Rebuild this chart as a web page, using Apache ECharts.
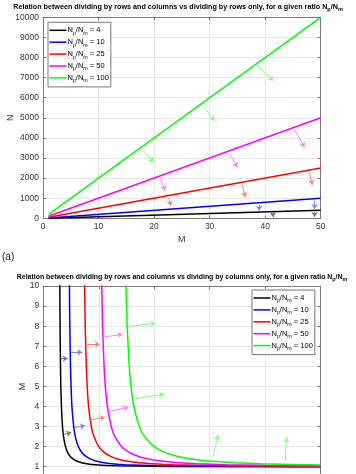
<!DOCTYPE html>
<html>
<head>
	<meta charset="utf-8" />
	<title>Rows and columns</title>
	<script src="https://cdn.jsdelivr.net/npm/echarts@6/dist/echarts.min.js"></script>
	<style>
		html, body { margin: 0; padding: 0; background: #fff; }
	</style>
</head>
<body>
	<div id="main" style="width: 356px;height: 474px;"></div>
	<script type="text/javascript">

		// ratios Np/Nm and colours
		var ratios = [4, 10, 25, 50, 100];
		var lineColors = ['#000000', '#0000ff', '#ff0000', '#ff00ff', '#00ff00'];
		var arrowColors = ['#7a7a7a', '#8080ff', '#ff8080', '#ff80ff', '#80ff80'];

		// top chart: N against M, ends of each line
		var mEnds = [1, 50];
		var nEnds = [[8, 400], [20, 1000], [50, 2500], [100, 5000], [200, 10000]];

		// bottom chart: M against N
		var curve4 = [[2.95, 12], [2.98, 10], [3.02, 8], [3.10, 6], [3.16, 5], [3.27, 4], [3.46, 3], [3.65, 2.5], [4.0, 2], [4.41, 1.7], [4.9, 1.5], [5.29, 1.4], [5.89, 1.3], [6.93, 1.2], [7.83, 1.15], [9.38, 1.1], [12.96, 1.05], [20, 1.02], [30, 1.009], [40, 1.005], [50, 1.003]];
		var curve10 = [[4.67, 12], [4.71, 10], [4.78, 8], [4.90, 6], [5.0, 5], [5.16, 4], [5.48, 3], [5.77, 2.5], [6.32, 2], [6.97, 1.7], [7.75, 1.5], [8.37, 1.4], [9.31, 1.3], [10.95, 1.2], [12.38, 1.15], [14.83, 1.1], [20.49, 1.05], [30, 1.023], [40, 1.013], [50, 1.008]];
		var curve25 = [[7.39, 12], [7.45, 10], [7.56, 8], [7.75, 6], [7.91, 5], [8.16, 4], [8.66, 3], [9.13, 2.5], [10, 2], [11.02, 1.7], [12.25, 1.5], [13.23, 1.4], [14.72, 1.3], [17.32, 1.2], [19.58, 1.15], [23.45, 1.1], [32.4, 1.05], [40, 1.032], [50, 1.02]];
		var curve50 = [[10.44, 12], [10.54, 10], [10.69, 8], [10.95, 6], [11.18, 5], [11.55, 4], [12.25, 3], [12.91, 2.5], [14.14, 2], [15.58, 1.7], [17.32, 1.5], [18.71, 1.4], [20.82, 1.3], [24.49, 1.2], [27.69, 1.15], [33.17, 1.1], [40, 1.067], [45.83, 1.05], [50, 1.042]];
		var curve100 = [[14.77, 12], [14.91, 10], [15.12, 8], [15.49, 6], [15.81, 5], [16.33, 4], [17.32, 3], [18.26, 2.5], [20, 2], [22.04, 1.7], [24.49, 1.5], [26.46, 1.4], [29.44, 1.3], [34.64, 1.2], [39.16, 1.15], [46.9, 1.1], [50, 1.087]];
		var curves = [curve4, curve10, curve25, curve50, curve100];

		// arrows [from, to]
		var topArrows = [
			[[[41.4, 280], [41.4, 50]], [[48.9, 330], [48.9, 60]]],
			[[[38.9, 660], [38.9, 380]], [[48.9, 880], [48.9, 460]]],
			[[[22.7, 1000], [23.0, 610]], [[35.9, 1660], [36.4, 1050]], [[48.0, 2270], [48.5, 1660]]],
			[[[21.1, 1990], [22.0, 1380]], [[33.7, 3190], [35.0, 2540]], [[45.2, 4430], [47.1, 3540]]],
			[[[18.1, 3350], [19.9, 2790]], [[29.0, 5530], [30.9, 4850]], [[38.8, 7550], [41.5, 6840]]]
		];
		var bottomArrows = [
			[[[3.1, 6.38], [4.4, 6.38]], [[3.73, 2.61], [5.05, 2.71]]],
			[[[5.05, 6.70], [7.03, 6.70]], [[5.66, 2.96], [7.51, 3.04]]],
			[[[7.93, 7.09], [10.2, 7.09]], [[8.47, 3.31], [11.1, 3.46]]],
			[[[11.1, 7.47], [14.3, 7.59]], [[11.9, 3.77], [15.3, 3.96]]],
			[[[15.3, 7.98], [20.25, 8.15]], [[16.6, 4.39], [21.8, 4.61]], [[30.6, 1.47], [31.5, 2.58]], [[43.6, 1.25], [43.85, 2.46]]]
		];

		var font = 'Liberation Sans';
		var frame = '#7a7a7a';
		var names = ratios.map(function (r) { return 'Np/Nm = ' + r; });

		var subRich = {
			t: { fontSize: 7.5, lineHeight: 11, color: '#000', fontFamily: font },
			s: { fontSize: 5.3, verticalAlign: 'bottom', color: '#000', fontFamily: font }
		};
		function legendText(name) {
			return '{t|N}{s|p}{t|/N}{s|m}{t| = ' + name.split('= ')[1] + '}';
		}

		function valueAxis(pos, grid, min, max, step, box) {
			return {
				type: 'value', gridIndex: grid, position: pos, min: min, max: max, interval: step,
				axisLine: { show: true, onZero: false, lineStyle: { color: frame, width: 1 } },
				axisTick: { show: true, inside: true, length: 3, lineStyle: { color: frame } },
				axisLabel: { show: !box, color: '#333', fontSize: 8.5, fontFamily: font, margin: 4,
					formatter: function (v) { return String(v); } },
				splitLine: { show: !box, lineStyle: { color: '#e6e6e6', width: 1 } }
			};
		}

		function axisName(axis, text, gap) {
			axis.name = text;
			axis.nameLocation = 'middle';
			axis.nameGap = gap;
			axis.nameMoveOverlap = false;
			axis.nameTextStyle = { color: '#333', fontSize: 9, fontFamily: font };
		}

		var xAxes = [
			valueAxis('bottom', 0, 0, 50, 10, false),
			valueAxis('top', 0, 0, 50, 10, true),
			valueAxis('bottom', 1, 0, 50, 10, false),
			valueAxis('top', 1, 0, 50, 10, true)
		];
		axisName(xAxes[0], 'M', 17);

		var yAxes = [
			valueAxis('left', 0, 0, 10000, 1000, false),
			valueAxis('right', 0, 0, 10000, 1000, true),
			valueAxis('left', 1, 0, 10, 1, false),
			valueAxis('right', 1, 0, 10, 1, true)
		];
		axisName(yAxes[0], 'N', 28);
		axisName(yAxes[2], 'M', 16);

		function arrowMarks(list, color) {
			return {
				silent: true,
				symbol: ['none', 'arrow'],
				symbolSize: 5,
				label: { show: false },
				emphasis: { disabled: true },
				lineStyle: { color: color, width: 1, type: 'solid' },
				data: list.map(function (a) { return [{ coord: a[0] }, { coord: a[1] }]; })
			};
		}

		var series = [];
		ratios.forEach(function (r, k) {
			series.push({
				name: names[k], type: 'line', xAxisIndex: 0, yAxisIndex: 0,
				symbol: 'none', color: lineColors[k],
				lineStyle: { width: 1.5, color: lineColors[k] },
				data: mEnds.map(function (m, i) { return [m, nEnds[k][i]]; }),
				markLine: arrowMarks(topArrows[k], arrowColors[k])
			});
		});
		ratios.forEach(function (r, k) {
			series.push({
				name: names[k], type: 'line', xAxisIndex: 2, yAxisIndex: 2,
				symbol: 'none', color: lineColors[k], smooth: 0.2,
				lineStyle: { width: 1.5, color: lineColors[k] },
				data: curves[k],
				markLine: arrowMarks(bottomArrows[k], arrowColors[k])
			});
		});

		function legend(left, top) {
			return {
				orient: 'vertical', left: left, top: top, data: names,
				icon: 'rect', itemWidth: 17, itemHeight: 1.5, itemGap: 2.4,
				padding: [4, 2, 3.5, 1.5],
				borderColor: '#777', borderWidth: 1, backgroundColor: '#fff',
				selectedMode: false,
				formatter: legendText,
				textStyle: { rich: subRich, padding: [0, 0, 0, -4] }
			};
		}

		var titleRich = {
			b: { fontSize: 7.2, fontWeight: 'bold', color: '#000', fontFamily: font, lineHeight: 10 },
			s: { fontSize: 5.5, fontWeight: 'bold', color: '#000', fontFamily: font, verticalAlign: 'bottom' }
		};
		var titleRich2 = {
			b: { fontSize: 6.95, fontWeight: 'bold', color: '#000', fontFamily: font, lineHeight: 10 },
			s: { fontSize: 5.3, fontWeight: 'bold', color: '#000', fontFamily: font, verticalAlign: 'bottom' }
		};

		var myChart = echarts.init(document.getElementById('main'), null, { renderer: 'canvas' });
		var option = {
			animation: false,
			title: [
				{ text: '{b|Relation between dividing by rows and columns vs dividing by rows only, for a given ratio N}{s|p}{b|/N}{s|m}',
					left: 'center', top: 2, padding: 0, textStyle: { rich: titleRich } },
				{ text: '{b|Relation between dividing by rows and columns vs dividing by columns only, for a given ratio N}{s|p}{b|/N}{s|m}',
					left: 182, top: 272, padding: 0, textStyle: { rich: titleRich2 }, textAlign: 'center' }
			],
			grid: [
				{ left: 43, top: 17.3, width: 277.7, height: 201, outerBoundsMode: 'none' },
				{ left: 43.3, top: 286, width: 277.4, height: 200.8, outerBoundsMode: 'none' }
			],
			xAxis: xAxes,
			yAxis: yAxes,
			legend: [legend(48, 22.3), legend(252, 290)],
			graphic: [
				{ type: 'text', left: 2, top: 252, style: { text: '(a)', fontSize: 10, fill: '#222', fontFamily: font } }
			],
			series: series
		};
		myChart.setOption(option);

	</script>
</body>
</html>
